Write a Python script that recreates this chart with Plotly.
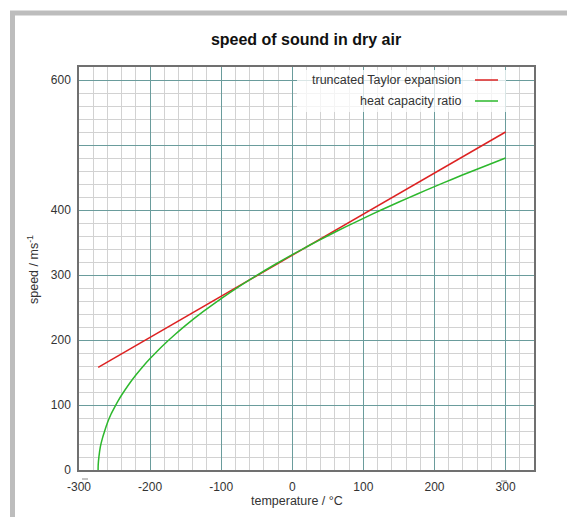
import plotly.graph_objects as go

# data
taylor_T = [-273, 300]
taylor_v = [158, 520]

ratio_T = [-273.15, -273, -272, -270, -267, -264, -260, -255, -250, -245, -240, -230, -220, -210,
           -200, -190, -180, -165, -150, -125, -100, -75, -50, -25, 0, 25, 50, 75, 100,
           125, 150, 175, 200, 225, 250, 275, 300]
ratio_v = [0, 7.7, 20.2, 35.6, 49.0, 59.7, 72.7, 85.8, 96.5, 106.4, 115.4, 131.6, 146.1, 159.3,
           171.4, 182.8, 193.5, 208.4, 222.5, 243.9, 263.8, 282.3, 299.5, 315.8, 331.3, 346.1,
           360.4, 374.1, 387.2, 400.0, 412.3, 424.3, 436.0, 447.4, 458.5, 469.3, 479.9]

x_tickvals = [-300, -200, -100, 0, 100, 200, 300]
x_ticktext = ["-300", "-200", "-100", "0", "100", "200", "300"]
y_tickvals = [0, 100, 200, 300, 400, 500, 600]
y_ticktext = ["0", "100", "200", "300", "400", "", "600"]

legend_names = ["truncated Taylor expansion", "heat capacity ratio"]
colors = ["#dd2222", "#2db82d"]

W, H = 567, 517
L, R, T, B = 79, 534, 67, 470


def px(x):
    return (x - L) / (R - L)


def py(y):
    return (B - y) / (B - T)


fig = go.Figure()
fig.add_trace(go.Scatter(x=taylor_T, y=taylor_v, mode="lines", name=legend_names[0],
                         line=dict(color=colors[0], width=1.5), showlegend=False))
fig.add_trace(go.Scatter(x=ratio_T, y=ratio_v, mode="lines", name=legend_names[1],
                         line=dict(color=colors[1], width=1.5, shape="spline", smoothing=0.6),
                         showlegend=False))

font_fam = "Liberation Sans, Arial, sans-serif"
txt_col = "#333333"
axis_common = dict(
    showgrid=True, gridcolor="#6a9c9c", gridwidth=1,
    zeroline=False, showline=True, linecolor="#707070", linewidth=1.5, mirror=True,
    ticks="", tickfont=dict(family=font_fam, size=12, color=txt_col),
    tickmode="array",
)

fig.update_xaxes(range=[-300, 340], tickvals=x_tickvals, ticktext=x_ticktext,
                 minor=dict(dtick=20, tick0=0, showgrid=True, gridcolor="#d2d2d2", gridwidth=1),
                 ticklabelstandoff=5, **axis_common)
fig.update_yaxes(range=[0, 620], tickvals=y_tickvals, ticktext=y_ticktext,
                 minor=dict(dtick=20, tick0=0, showgrid=True, gridcolor="#d2d2d2", gridwidth=1),
                 ticklabelstandoff=4, **axis_common)

shapes = []
# outer gray frame (left and top visible)
shapes.append(dict(type="rect", xref="paper", yref="paper",
                   x0=px(12.5), x1=px(600), y0=py(600), y1=py(13),
                   line=dict(color="#bdbdbd", width=5), fillcolor="rgba(0,0,0,0)", layer="below"))
# legend background
shapes.append(dict(type="rect", xref="paper", yref="paper",
                   x0=px(297), x1=px(506), y0=py(112), y1=py(70),
                   line=dict(width=0), fillcolor="rgba(255,255,255,0.75)", layer="above"))
# small overline marks above the end tick labels
for x0, x1, yy in [(82, 88, 479), (501, 507, 481)]:
    shapes.append(dict(type="line", xref="paper", yref="paper",
                       x0=px(x0), x1=px(x1), y0=py(yy), y1=py(yy),
                       line=dict(color="#888888", width=1)))

annotations = []
for i, (name, c) in enumerate(zip(legend_names, colors)):
    yy = 80 + 21 * i
    shapes.append(dict(type="line", xref="paper", yref="paper",
                       x0=px(475), x1=px(498), y0=py(yy), y1=py(yy),
                       line=dict(color=c, width=1.5), layer="above"))
    annotations.append(dict(xref="paper", yref="paper", x=px(463), y=py(yy),
                            xanchor="right", yanchor="middle", showarrow=False,
                            text=name, font=dict(family=font_fam, size=12.5, color=txt_col)))

annotations.append(dict(xref="paper", yref="paper", x=px(297), y=py(501),
                        xanchor="center", yanchor="middle", showarrow=False,
                        text="temperature / °C", font=dict(family=font_fam, size=12.5, color=txt_col)))
annotations.append(dict(xref="paper", yref="paper", x=px(33), y=py(270),
                        xanchor="center", yanchor="middle", showarrow=False, textangle=-90,
                        text="speed / ms<sup>-1</sup>", font=dict(family=font_fam, size=12.5, color=txt_col)))

fig.update_layout(
    width=W, height=H,
    margin=dict(l=L, r=W - R, t=T, b=H - B, autoexpand=False),
    paper_bgcolor="white", plot_bgcolor="white",
    title=dict(text="<b>speed of sound in dry air</b>", x=px(306), xref="paper",
               xanchor="center", y=1 - 39 / H, yanchor="middle",
               font=dict(family=font_fam, size=16, color="#111111")),
    shapes=shapes, annotations=annotations, showlegend=False,
)

fig.write_html("out.html")
